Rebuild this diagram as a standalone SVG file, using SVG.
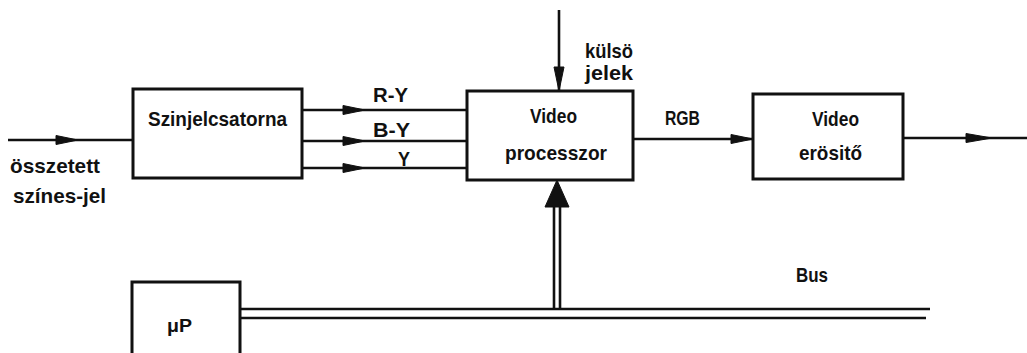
<svg xmlns="http://www.w3.org/2000/svg" width="1027" height="353" viewBox="0 0 1027 353">
<style>
.box{fill:none;stroke:#111;stroke-width:3}
.ln{fill:none;stroke:#111;stroke-width:2.6}
.ah{fill:#111;stroke:#111;stroke-width:1}
text{font-family:"Liberation Sans","DejaVu Sans",sans-serif;font-weight:bold;font-size:21px;fill:#111}
</style>
<rect width="1027" height="353" fill="#fff"/>
<g id="connectors">
  <line class="ln" x1="8" y1="140" x2="133" y2="140"/>
  <polygon class="ah" points="56,135.5 78,140 56,144.5"/>
  <line class="ln" x1="302" y1="110" x2="467" y2="110"/>
  <polygon class="ah" points="343,105.5 365,110 343,114.5"/>
  <line class="ln" x1="302" y1="141" x2="467" y2="141"/>
  <polygon class="ah" points="343,136.5 365,141 343,145.5"/>
  <line class="ln" x1="302" y1="168" x2="467" y2="168"/>
  <polygon class="ah" points="343,163.5 365,168 343,172.5"/>
  <line class="ln" x1="559" y1="10" x2="559" y2="91"/>
  <polygon class="ah" points="554,67 559,91 564,67"/>
  <line class="ln" x1="633" y1="139" x2="753" y2="139"/>
  <polygon class="ah" points="731,134.5 753,139 731,143.5"/>
  <line class="ln" x1="903" y1="138" x2="1027" y2="138"/>
  <polygon class="ah" points="966,133.5 992,138 966,142.5"/>
  <line class="ln" x1="554" y1="200" x2="554" y2="309"/>
  <line class="ln" x1="560" y1="200" x2="560" y2="309"/>
  <polygon class="ah" points="557,180 545,207 569,207"/>
  <line class="ln" x1="240" y1="309" x2="930" y2="309"/>
  <line class="ln" x1="240" y1="318" x2="926" y2="318"/>
  <text x="10" y="173" textLength="90" lengthAdjust="spacingAndGlyphs">összetett</text>
  <text x="13" y="203" textLength="93" lengthAdjust="spacingAndGlyphs">színes-jel</text>
  <text x="373" y="102" textLength="35" lengthAdjust="spacingAndGlyphs">R-Y</text>
  <text x="373" y="137" textLength="37" lengthAdjust="spacingAndGlyphs">B-Y</text>
  <text x="398" y="166" textLength="12" lengthAdjust="spacingAndGlyphs">Y</text>
  <text x="585" y="58" textLength="48" lengthAdjust="spacingAndGlyphs">külsö</text>
  <text x="585" y="80" textLength="48" lengthAdjust="spacingAndGlyphs">jelek</text>
  <text x="665" y="125" textLength="35" lengthAdjust="spacingAndGlyphs">RGB</text>
  <text x="796" y="282" textLength="32" lengthAdjust="spacingAndGlyphs">Bus</text>
</g>
<g id="szinjelcsatorna">
  <rect class="box" x="133" y="89" width="169" height="89"/>
  <text x="148" y="126" textLength="139" lengthAdjust="spacingAndGlyphs">Szinjelcsatorna</text>
</g>
<g id="video-processzor">
  <rect class="box" x="467" y="91" width="166" height="89"/>
  <text x="530" y="123" textLength="47" lengthAdjust="spacingAndGlyphs">Video</text>
  <text x="505" y="160" textLength="102" lengthAdjust="spacingAndGlyphs">processzor</text>
</g>
<g id="video-erosito">
  <rect class="box" x="753" y="94" width="150" height="85"/>
  <text x="812" y="126" textLength="47" lengthAdjust="spacingAndGlyphs">Video</text>
  <text x="799" y="160" textLength="63" lengthAdjust="spacingAndGlyphs">erösitő</text>
</g>
<g id="up">
  <path class="box" d="M132,353 V282 H240 V353"/>
  <text x="167" y="332" textLength="25" lengthAdjust="spacingAndGlyphs" style="font-size:18px">μP</text>
</g>
</svg>
